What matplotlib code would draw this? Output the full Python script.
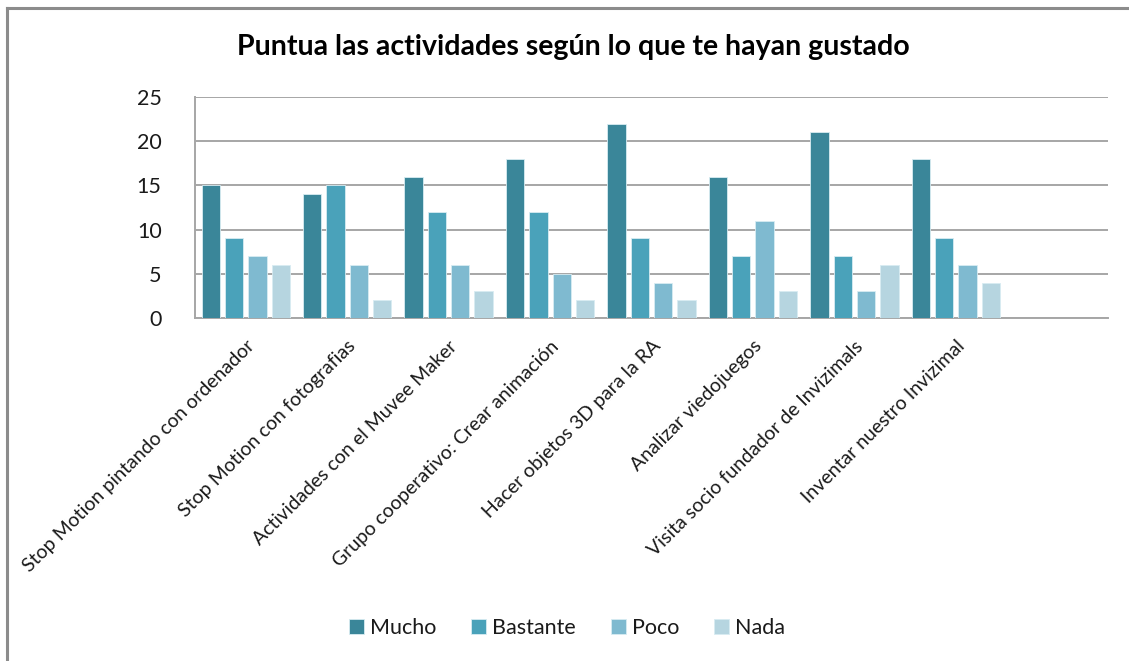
import numpy as np
import matplotlib
matplotlib.use('Agg')
import matplotlib.pyplot as plt
from matplotlib.lines import Line2D

# data
CATEGORIES = [
    'Stop Motion pintando con ordenador',
    'Stop Motion con fotografias',
    'Actividades con el Muvee Maker',
    'Grupo cooperativo: Crear animación',
    'Hacer objetos 3D para la RA',
    'Analizar viedojuegos',
    'Visita socio fundador de Invizimals',
    'Inventar nuestro Invizimal',
    '',
]
SERIES = ['Mucho', 'Bastante', 'Poco', 'Nada']
MUCHO    = [15, 14, 16, 18, 22, 16, 21, 18]
BASTANTE = [9, 15, 12, 12, 9, 7, 7, 9]
POCO     = [7, 6, 6, 5, 4, 11, 3, 6]
NADA     = [6, 2, 3, 2, 2, 3, 6, 4]
YTICKS   = [0, 5, 10, 15, 20, 25]

COLORS = ['#3a8699', '#4aa2ba', '#7fbad0', '#b6d5e0']
GRID   = '#a6a6a6'
TEXT   = '#1a1a1a'

plt.rcParams['font.family'] = ['Lato', 'DejaVu Sans']

fig = plt.figure(figsize=(11.29, 6.61), dpi=100)
ax = fig.add_axes([195/1129, 1 - 318/661, (1108 - 195)/1129, (318 - 97)/661])

x = np.arange(len(CATEGORIES))
step = 0.23
width = 0.18
for i, (name, vals) in enumerate(zip(SERIES, [MUCHO, BASTANTE, POCO, NADA])):
    xs = x[:len(vals)] + (i - 1.5) * step
    ax.bar(xs, vals, width=width, color=COLORS[i], label=name, zorder=3,
           edgecolor='#d8ecf2', linewidth=0.6)

ax.set_xlim(-0.5, len(CATEGORIES) - 0.5)
ax.set_ylim(0, 25)
ax.set_yticks(YTICKS)
ax.set_yticklabels([str(t) for t in YTICKS], fontsize=15.5, color=TEXT)
ax.set_xticks(x)
ax.set_xticklabels(CATEGORIES, rotation=45, ha='right', rotation_mode='anchor',
                   fontsize=14, color=TEXT)
ax.tick_params(axis='both', length=0)
ax.tick_params(axis='y', pad=24)
ax.tick_params(axis='x', pad=14)

ax.grid(axis='y', color=GRID, lw=1.4, zorder=0)
ax.set_axisbelow(True)
for sp in ['top', 'right']:
    ax.spines[sp].set_visible(False)
for sp in ['left', 'bottom']:
    ax.spines[sp].set_color(GRID)
    ax.spines[sp].set_linewidth(1.4)

fig.text(573/1129, 1 - 47/661, 'Puntua las actividades según lo que te hayan gustado',
         ha='center', va='center', fontsize=20.5, fontweight='bold', color='#000000')

fig.legend(loc='center', bbox_to_anchor=(567/1129, 1 - 628/661), ncol=4,
           frameon=False, fontsize=15.5, handlelength=0.7, handleheight=0.7,
           handletextpad=0.3, columnspacing=1.6, labelcolor=TEXT)

# outer frame (top and left)
fig.add_artist(Line2D([7/1129, 1], [1 - 8/661, 1 - 8/661], color='#8c8c8c', lw=2.2))
fig.add_artist(Line2D([7/1129, 7/1129], [0, 1 - 8/661], color='#8c8c8c', lw=2.2))

fig.savefig('out.png', dpi=100, facecolor='white')
